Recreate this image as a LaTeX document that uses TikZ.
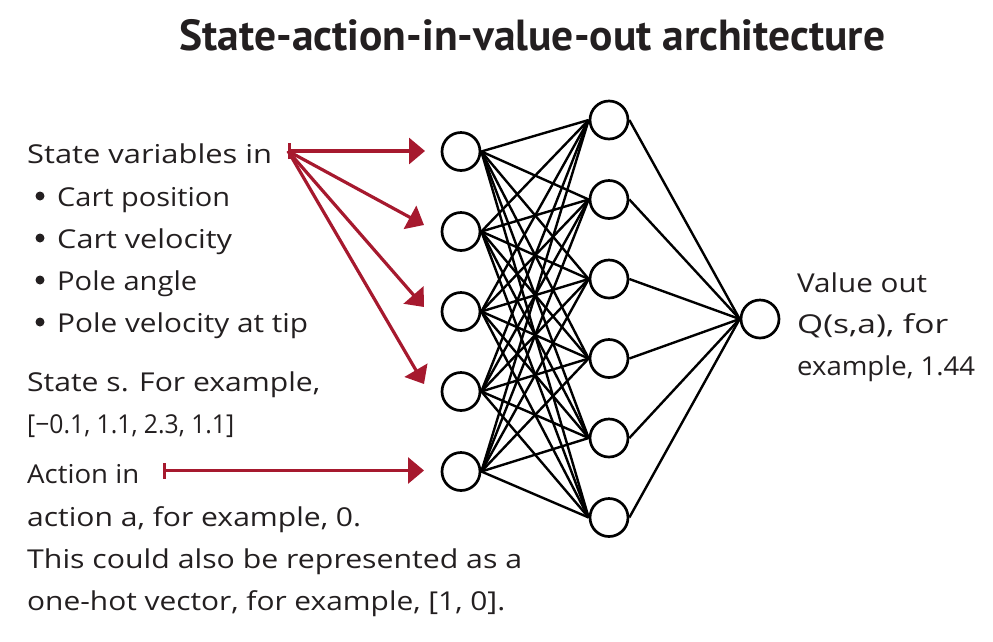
\documentclass[tikz,border=0pt]{standalone}
\usepackage{fontspec}
\setmainfont{Open Sans}
\newfontfamily\titlefont{PT Sans}
\usetikzlibrary{arrows.meta}
\definecolor{ink}{HTML}{231F20}
\definecolor{wine}{HTML}{A6192E}
\newcommand{\fitw}[2]{\resizebox{#1pt}{\height}{#2}}
\begin{document}
\begin{tikzpicture}[x=1pt,y=-1pt,
  neuron/.style={circle,draw=black,line width=2.7pt,minimum size=38pt,inner sep=0pt},
  link/.style={draw=black,line width=2.4pt},
  dot/.style={circle,fill=ink,minimum size=9pt,inner sep=0pt},
  feed/.style={draw=wine,line width=3.2pt,-{Triangle[length=16pt,width=26pt]}},
  barfeed/.style={draw=wine,line width=3.2pt,{Bar[width=16pt,line width=3pt]}-{Triangle[length=16pt,width=26pt]}},
  txt/.style={anchor=base west,inner sep=0pt,text=ink,font=\fontsize{26}{30}\selectfont},
  ttl/.style={anchor=base,inner sep=0pt,text=ink,font=\titlefont\bfseries\fontsize{43.5}{50}\selectfont}]
\useasboundingbox (0,0) rectangle (993,641);
\node[ttl] (title) at (532.5,50) {State-action-in-value-out architecture};
% input layer
\foreach \i/\y in {1/151.5,2/231.5,3/311.5,4/391.5,5/471.5}
  \node[neuron] (i\i) at (461,\y) {};
% hidden layer
\foreach \j/\y in {1/120,2/199.5,3/279,4/358.5,5/438,6/517.5}
  \node[neuron] (h\j) at (609,\y) {};
\node[neuron] (o) at (760,319) {};
\foreach \i in {1,...,5}
  \foreach \j in {1,...,6}
    \draw[link] (i\i.east) -- (h\j.west);
\foreach \j in {1,...,6}
  \draw[link] (h\j.east) -- (o.west);
% arrows
\coordinate (sv) at (288,151);
\coordinate (av) at (163,470.5);
\coordinate (t1) at (425,151);
\coordinate (t2) at (424,225);
\coordinate (t3) at (424,307);
\coordinate (t4) at (424,384);
\coordinate (t5) at (424,470.5);
\draw[barfeed] (sv) -- (t1);
\foreach \k in {2,...,4}
  \draw[feed] (sv) -- (t\k);
\draw[barfeed] (av) -- (t5);
% texts
\node[txt] (l1) at (27,163) {\fitw{245}{State variables in}};
\foreach \k/\y in {1/196,2/238,3/280,4/322}
  \node[dot] (b\k) at (40,\y) {};
\node[txt] (l2) at (57,206) {\fitw{173}{Cart position}};
\node[txt] (l3) at (57,248) {\fitw{175}{Cart velocity}};
\node[txt] (l4) at (57,290) {\fitw{140}{Pole angle}};
\node[txt] (l5) at (57,332) {\fitw{251}{Pole velocity at tip}};
\node[txt] (l6) at (27,391) {\fitw{293}{State s. For example,}};
\node[txt] (l7) at (27,433) {\fitw{207}{[−0.1, 1.1, 2.3, 1.1]}};
\node[txt] (l8) at (27,483) {\fitw{112}{Action in}};
\node[txt] (l9) at (27,526) {\fitw{334}{action a, for example, 0.}};
\node[txt] (l10) at (27,568) {\fitw{495}{This could also be represented as a}};
\node[txt] (l11) at (27,610) {\fitw{478}{one-hot vector, for example, [1, 0].}};
\node[txt] (r1) at (797,292) {\fitw{130}{Value out}};
\node[txt] (r2) at (797,333) {\fitw{151}{Q(s,a), for}};
\node[txt] (r3) at (797,375) {\fitw{178}{example, 1.44}};
\end{tikzpicture}
\end{document}
